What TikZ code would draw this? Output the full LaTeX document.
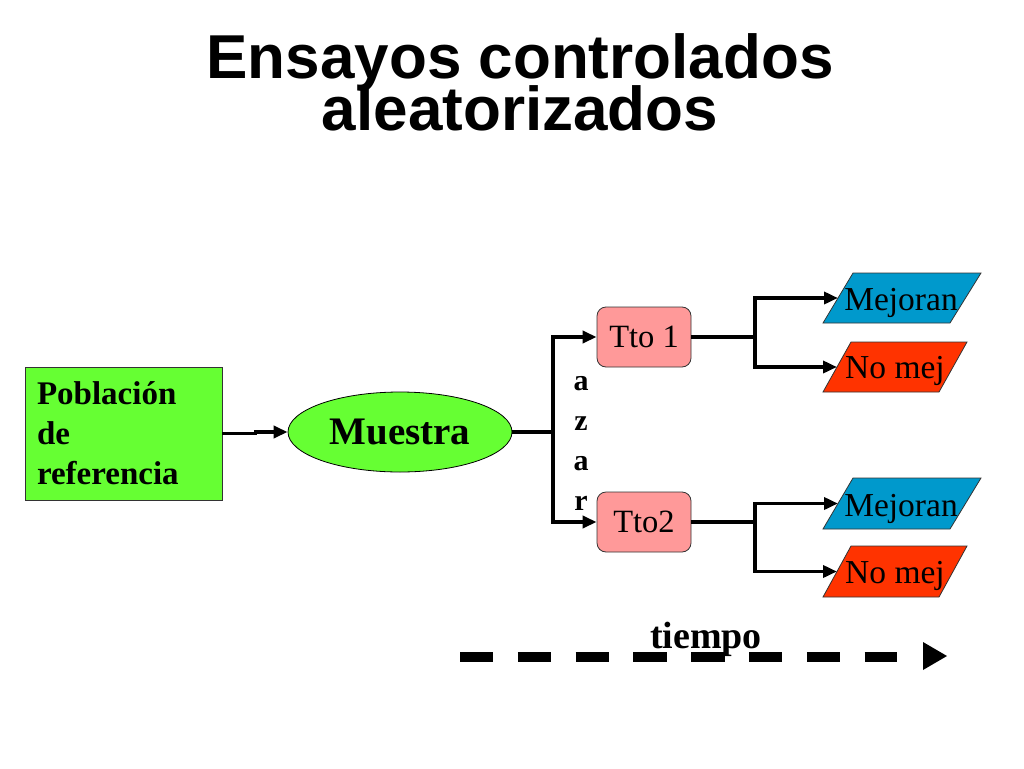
\documentclass[tikz,border=0pt]{standalone}
\usepackage{fontspec}
\setmainfont{Liberation Serif}
\newfontfamily\titlefont{Liberation Sans}
\usetikzlibrary{shapes.geometric,arrows.meta}
\definecolor{pobgreen}{HTML}{66FF33}
\definecolor{ttopink}{HTML}{FF9999}
\definecolor{mejblue}{HTML}{0099CC}
\definecolor{nored}{HTML}{FF3300}
\tikzset{
  link/.style={line width=3.5pt, draw=black},
  conn/.style={link, -{Triangle[length=14pt,width=12pt]}},
  ttobox/.style={draw=black!80, line width=0.8pt, fill=ttopink, rounded corners=9pt,
    minimum width=94pt, minimum height=60pt, inner sep=0pt,
    font=\fontsize{32.5}{36}\selectfont},
  outtext/.style={anchor=base, inner sep=0pt, font=\fontsize{33.5}{36}\selectfont},
  paraform/.style={draw=black!80, line width=0.8pt},
  azarletter/.style={anchor=base, inner sep=0pt, font=\bfseries\fontsize{30}{34}\selectfont},
}
\begin{document}
\begin{tikzpicture}[x=1pt,y=-1pt]
\useasboundingbox (0,0) rectangle (1024,768);

% title
\node[anchor=base, inner sep=0pt, font=\titlefont\bfseries\fontsize{62}{52}\selectfont] (title1) at (520,78) {Ensayos controlados};
\node[anchor=base, inner sep=0pt, font=\titlefont\bfseries\fontsize{62}{52}\selectfont] (title2) at (520,130) {aleatorizados};

% Poblacion
\node[draw=black!80, line width=0.8pt, fill=pobgreen, minimum width=197pt, minimum height=133pt,
  text width=173pt, inner xsep=12pt, align=left,
  font=\bfseries\fontsize{33}{40}\selectfont] (pob) at (123.5,433.5) {Población\\de\\referencia};

% Muestra
\node[ellipse, draw=black, line width=0.8pt, fill=pobgreen, minimum width=224pt, minimum height=80pt,
  inner sep=0pt, font=\bfseries\fontsize{39}{40}\selectfont] (mu) at (400,432) {Muestra};

\draw[conn] (pob.east) -- ++(33,0) |- (mu.west);

% treatments
\node[ttobox] (t1) at (644,337) {Tto 1};
\node[ttobox] (t2) at (644,522) {Tto2};

\coordinate (sp) at (553,432);
\draw[link] (mu.east) -- (sp);
\draw[conn] (sp) |- (t1.west);
\draw[conn] (sp) |- (t2.west);

% azar
\foreach \l/\yy [count=\i] in {a/390, z/430, a/470, r/510}
  \node[azarletter] (az\i) at (581,\yy) {\l};

% outcome shapes
\draw[paraform, fill=mejblue] (823,323) -- (950,323) -- (981,273) -- (853,273) -- cycle;
\draw[paraform, fill=nored]   (823,392) -- (939,392) -- (967,342) -- (851,342) -- cycle;
\draw[paraform, fill=mejblue] (823,529) -- (950,529) -- (981,478) -- (853,478) -- cycle;
\draw[paraform, fill=nored]   (823,597) -- (939,597) -- (967,546) -- (851,546) -- cycle;

\node[outtext] (m1) at (901,310) {Mejoran};
\node[outtext] (n1) at (895,378) {No mej};
\node[outtext] (m2) at (901,516) {Mejoran};
\node[outtext] (n2) at (895,583) {No mej};

\coordinate (m1w) at (838,298);
\coordinate (n1w) at (837,367);
\coordinate (m2w) at (838,503.5);
\coordinate (n2w) at (837,571.5);

\coordinate (s1) at (755,337);
\coordinate (s2) at (755,522);
\draw[link] (t1.east) -- (s1);
\draw[conn] (s1) |- (m1w);
\draw[conn] (s1) |- (n1w);
\draw[link] (t2.east) -- (s2);
\draw[conn] (s2) |- (m2w);
\draw[conn] (s2) |- (n2w);

% tiempo
\coordinate (ts) at (460,657);
\coordinate (te) at (897,657);
\draw[line width=10pt, dash pattern=on 33.3pt off 24.5pt] (ts) -- (te);
\coordinate (tip) at (947,656);
\fill (tip) -- ++(-24,-14) -- ++(0,28) -- cycle;
\node[anchor=base, inner sep=0pt, font=\bfseries\fontsize{38}{40}\selectfont] (tiempo) at (706,648) {tiempo};
\end{tikzpicture}
\end{document}
